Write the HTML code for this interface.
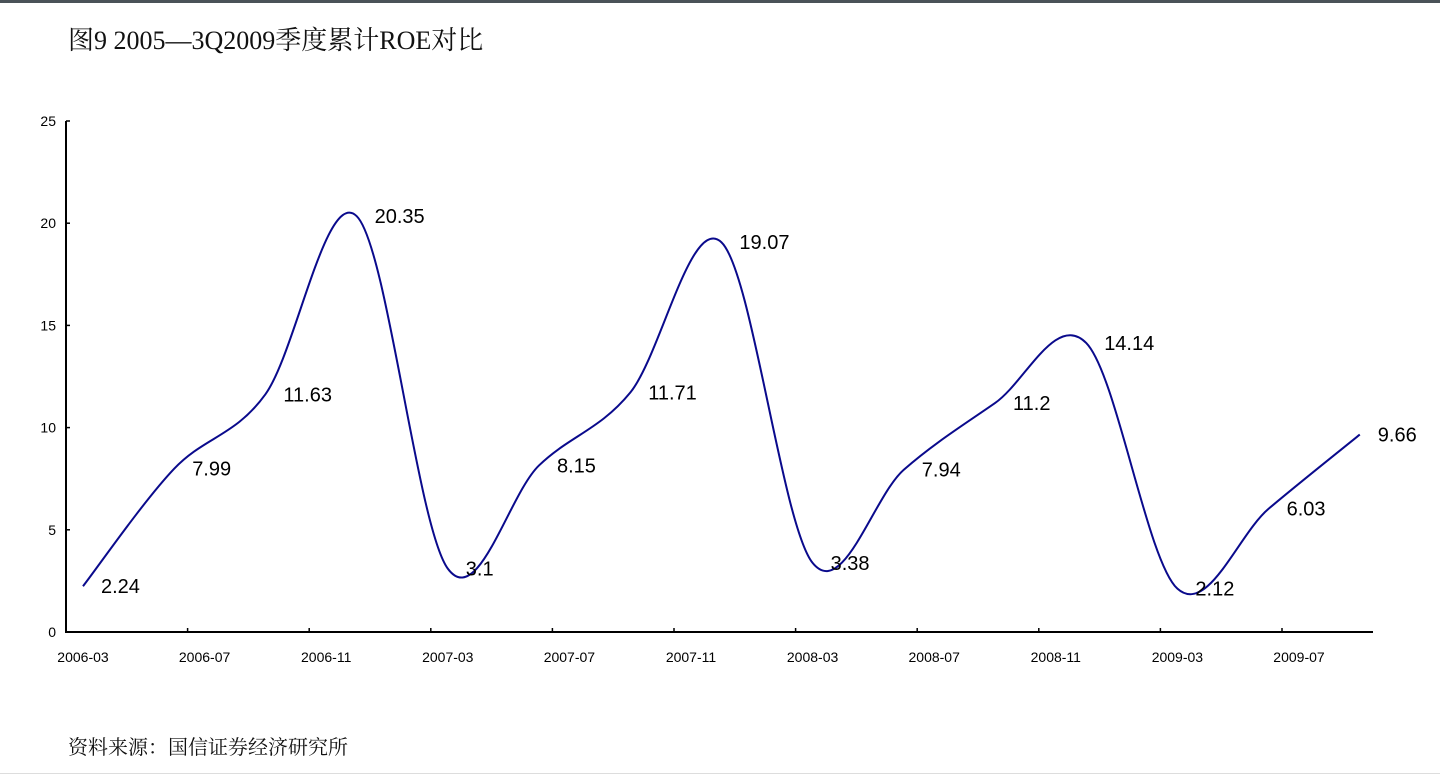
<!DOCTYPE html>
<html><head><meta charset="utf-8">
<style>
html,body{margin:0;padding:0;background:#fff;}
body{width:1440px;height:777px;position:relative;overflow:hidden;}
#topbar{position:absolute;left:0;top:0;width:1440px;height:3px;background:#4a5258;}
#title{position:absolute;left:68px;top:20px;font-family:"Liberation Serif","Noto Serif CJK SC",serif;font-size:26px;color:#111;white-space:nowrap;}
#source{position:absolute;left:68px;top:731px;font-family:"Liberation Serif","Noto Serif CJK SC",serif;font-size:20px;color:#111;white-space:nowrap;}
#botline{position:absolute;left:0;top:773px;width:1440px;height:1px;background:#ddd;}
svg{position:absolute;left:0;top:0;}
</style></head><body>
<div id="topbar"></div>
<div id="title">图9 2005—3Q2009季度累计ROE对比</div>
<svg id="chart" width="1440" height="777"></svg>
<div id="source">资料来源：国信证券经济研究所</div>
<div id="botline"></div>
<script>
const categories=["2006-03","2006-06","2006-09","2006-12","2007-03","2007-06","2007-09","2007-12","2008-03","2008-06","2008-09","2008-12","2009-03","2009-06","2009-09"];
const roeValues=[2.24,7.99,11.63,20.35,3.1,8.15,11.71,19.07,3.38,7.94,11.2,14.14,2.12,6.03,9.66];
const xTickLabels=["2006-03","2006-07","2006-11","2007-03","2007-07","2007-11","2008-03","2008-07","2008-11","2009-03","2009-07"];
const yTicks=[0,5,10,15,20,25];

const NS="http://www.w3.org/2000/svg";
const svg=document.getElementById('chart');
const x0=66,x1=1373,yBase=632,yTop=121,yMax=25;
const firstX=83,monthW=30.4;
function monthIndex(s){const p=s.split('-');return (+p[0]-2006)*12+(+p[1]-3);}
function xScale(s){return firstX+monthIndex(s)*monthW;}
function yScale(v){return yBase-(v/yMax)*(yBase-yTop);}
function mk(tag,attrs){const e=document.createElementNS(NS,tag);for(const k in attrs)e.setAttribute(k,attrs[k]);svg.appendChild(e);return e;}

// axes
let ax=mk('line',{x1:x0,y1:yTop,x2:x0,y2:yBase,stroke:'#000','stroke-width':2});


let bx=mk('line',{x1:x0-1,y1:yBase,x2:x1,y2:yBase,stroke:'#000','stroke-width':2});



yTicks.forEach(v=>{
  const y=yScale(v);
  const t=mk('line',{x1:x0,y1:y,x2:x0+4,y2:y,stroke:'#000','stroke-width':1.5});
  
  
  const l=mk('text',{x:x0-10,y:y+5,'text-anchor':'end','font-family':'Liberation Sans, sans-serif','font-size':14,fill:'#000'});
  l.textContent=v;
  
  
});
xTickLabels.forEach((s,i)=>{
  const x=xScale(s);
  if(i>0){
    const t=mk('line',{x1:x0+(x-firstX)+ (firstX-x0)*0 , y1:yBase, x2:0,y2:0});
    t.remove();
    const tx=x0+(monthIndex(s))*monthW;
    const tk=mk('line',{x1:tx+ (i>0?(firstX-x0)*0:0),y1:yBase-4,x2:tx,y2:yBase,stroke:'#000','stroke-width':1.5});
    
    
  }
  const l=mk('text',{x:x,y:yBase+30,'text-anchor':'middle','font-family':'Liberation Sans, sans-serif','font-size':14,fill:'#000'});
  l.textContent=s;
  
  
});

// smoothed line (Catmull-Rom)
const pts=categories.map((c,i)=>[xScale(c),yScale(roeValues[i])]);
let d='M'+pts[0][0]+','+pts[0][1];
for(let i=0;i<pts.length-1;i++){
  const p0=pts[Math.max(0,i-1)],p1=pts[i],p2=pts[i+1],p3=pts[Math.min(pts.length-1,i+2)];
  const c1=[p1[0]+(p2[0]-p0[0])/6,p1[1]+(p2[1]-p0[1])/6];
  const c2=[p2[0]-(p3[0]-p1[0])/6,p2[1]-(p3[1]-p1[1])/6];
  d+=' C'+c1[0]+','+c1[1]+' '+c2[0]+','+c2[1]+' '+p2[0]+','+p2[1];
}
const path=mk('path',{d:d,fill:'none',stroke:'#0a0a8c','stroke-width':2});



pts.forEach((p,i)=>{
  const l=mk('text',{x:p[0]+18,y:p[1]+7,'font-family':'Liberation Sans, sans-serif','font-size':20,fill:'#000'});
  l.textContent=roeValues[i];
  
  
});
</script>
</body></html>
